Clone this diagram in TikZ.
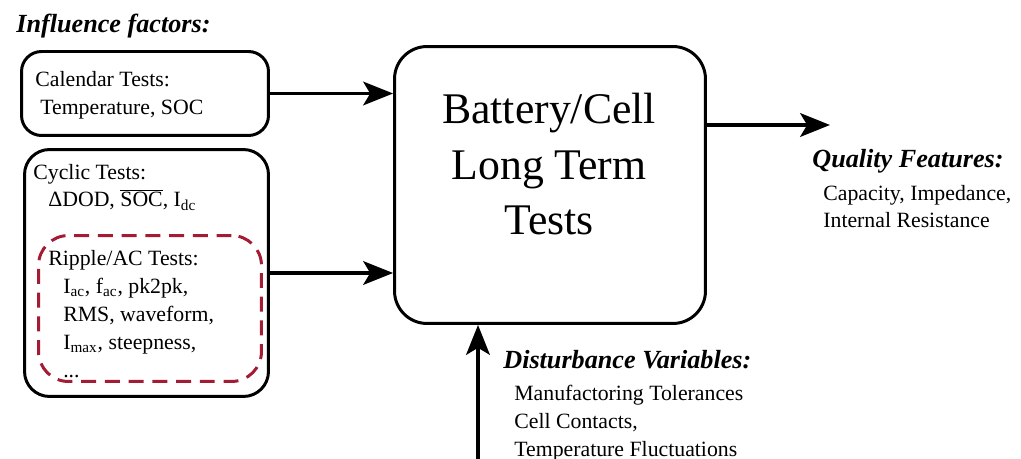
\documentclass[tikz,border=0pt]{standalone}
\usepackage{fontspec}
\setmainfont{Liberation Serif}
\usetikzlibrary{arrows.meta}
\definecolor{ripplered}{RGB}{163,28,52}
\begin{document}
\begin{tikzpicture}[x=0.02cm, y=-0.02cm,
    every node/.style={inner sep=0pt, font=\fontsize{12.4}{15.9}\selectfont},
    box/.style={draw, line width=1.7pt, rounded corners=#1},
    txt/.style={anchor=base west, align=left},
    head/.style={anchor=base west, font=\fontsize{14.9}{18}\selectfont\bfseries\itshape},
    arr/.style={line width=1.8pt, -{Stealth[length=17pt, width=13.5pt, inset=4pt]}}]
  \useasboundingbox (0,0) rectangle (1021,459);
  \node[head] (infl) at (16,33) {Influence factors:};
  \node[box=0.4cm, minimum width=4.94cm, minimum height=1.68cm] (cal) at (145,93.5) {};
  \node[txt, font=\fontsize{12.4}{16.5}\selectfont] (caltxt) at (35,115) {Calendar Tests:\\\hspace*{2.8pt}Temperature, SOC};
  \node[box=0.5cm, minimum width=4.88cm, minimum height=4.94cm] (cyc) at (146.5,273) {};
  \node[txt] (cyctxt) at (33,207) {Cyclic Tests:\\\hspace*{8.5pt}ΔDOD, $\overline{\hbox{SOC}}$, I\textsubscript{dc}};
  \node[box=0.6cm, draw=ripplered, dash pattern=on 8.5pt off 5pt, minimum width=4.46cm, minimum height=2.92cm] (rip) at (150,308.5) {};
  \node[txt] (riptxt) at (48,377) {Ripple/AC Tests:\\
    \hspace*{8.5pt}I\textsubscript{ac}, f\textsubscript{ac}, pk2pk,\\
    \hspace*{8.5pt}RMS, waveform,\\
    \hspace*{8.5pt}I\textsubscript{max}, steepness,\\
    \hspace*{8.5pt}...};
  \node[box=0.65cm, minimum width=6.22cm, minimum height=5.54cm] (main) at (550,185) {};
  \node[anchor=base, align=center, font=\fontsize{24.9}{31.8}\selectfont] (title) at (549,235) {Battery/Cell\\Long Term\\Tests};
  \node[head] (qual) at (812,168) {Quality Features:};
  \node[txt] (qualtxt) at (823,228) {Capacity, Impedance,\\Internal Resistance};
  \node[head] (dist) at (503,368) {Disturbance Variables:};
  \node[txt] (disttxt) at (514,456) {Manufactoring Tolerances\\Cell Contacts,\\Temperature Fluctuations};
  \coordinate (qa) at (830,125);
  \coordinate (da) at (478,459);
  \draw[arr] (cal.east) -- (cal.east -| main.west);
  \draw[arr] (cyc.east) -- (cyc.east -| main.west);
  \draw[arr] (main.east |- qa) -- (qa);
  \draw[arr] (da) -- (da |- main.south);
\end{tikzpicture}
\end{document}
